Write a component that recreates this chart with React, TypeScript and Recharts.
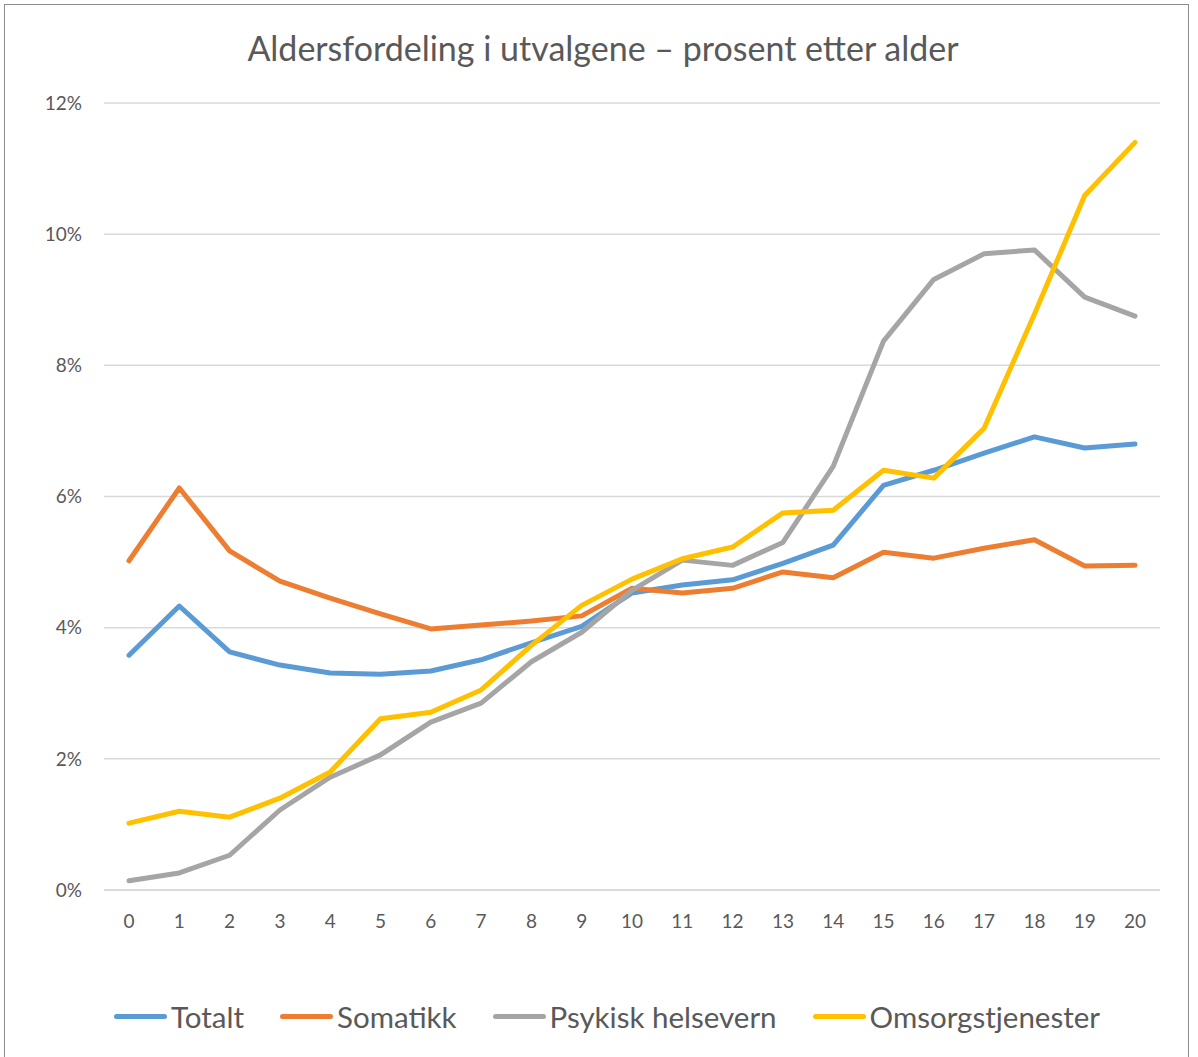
import React from 'react';
import { LineChart, Line, XAxis, YAxis, CartesianGrid } from 'recharts';

const ages = ['0','1','2','3','4','5','6','7','8','9','10','11','12','13','14','15','16','17','18','19','20'];
const totalt = [3.58,4.33,3.63,3.43,3.31,3.29,3.34,3.51,3.77,4.02,4.53,4.65,4.73,4.98,5.26,6.17,6.40,6.66,6.91,6.74,6.80];
const somatikk = [5.02,6.13,5.17,4.71,4.45,4.21,3.98,4.04,4.10,4.18,4.60,4.53,4.60,4.85,4.76,5.15,5.06,5.21,5.34,4.94,4.95];
const psykisk = [0.14,0.26,0.53,1.22,1.72,2.06,2.56,2.85,3.48,3.93,4.57,5.03,4.95,5.30,6.46,8.37,9.31,9.70,9.76,9.04,8.75];
const omsorg = [1.02,1.20,1.11,1.40,1.80,2.61,2.71,3.05,3.73,4.34,4.74,5.05,5.23,5.75,5.79,6.40,6.28,7.04,8.78,10.59,11.40];
const yTicks = [0,2,4,6,8,10,12];

const seriesDefs = [
  { key: 'totalt', name: 'Totalt', color: '#5B9BD5' },
  { key: 'somatikk', name: 'Somatikk', color: '#ED7D31' },
  { key: 'psykisk', name: 'Psykisk helsevern', color: '#A5A5A5' },
  { key: 'omsorg', name: 'Omsorgstjenester', color: '#FFC000' },
];

const data = ages.map((a, i) => ({
  age: a,
  totalt: totalt[i],
  somatikk: somatikk[i],
  psykisk: psykisk[i],
  omsorg: omsorg[i],
}));

const FONT = 'Lato, "Open Sans", sans-serif';

export default function App() {
  return (
    <div style={{ position: 'absolute', left: 0, top: 0, width: 1198, height: 1057, background: '#fff', overflow: 'hidden' }}>
      <div style={{ position: 'absolute', left: 4, top: 4, width: 1185, height: 1070, border: '1.5px solid #8C8C8C', boxSizing: 'border-box' }} />
      <div style={{ position: 'absolute', left: 0, top: 27, width: 1206, textAlign: 'center', fontFamily: FONT, fontSize: 34, color: '#595959' }}>
        Aldersfordeling i utvalgene – prosent etter alder
      </div>
      <div style={{ position: 'absolute', left: 0, top: 0 }}>
        <LineChart width={1198} height={1057} data={data} margin={{ top: 103, right: 38, bottom: 127, left: 44 }}>
          <CartesianGrid vertical={false} stroke="#D9D9D9" strokeWidth={1.5} />
          <XAxis
            dataKey="age"
            height={40}
            padding={{ left: 25, right: 25 }}
            axisLine={{ stroke: '#D9D9D9', strokeWidth: 1.5 }}
            tickLine={false}
            tick={{ fill: '#595959', fontSize: 19, fontFamily: FONT }}
            tickMargin={19}
            interval={0}
          />
          <YAxis
            width={60}
            domain={[0, 12]}
            ticks={yTicks}
            axisLine={false}
            tickLine={false}
            tick={{ fill: '#595959', fontSize: 19, fontFamily: FONT }}
            tickFormatter={(v) => `${v}%`}
            tickMargin={16}
          />
          {seriesDefs.map((s) => (
            <Line
              key={s.key}
              type="linear"
              dataKey={s.key}
              name={s.name}
              stroke={s.color}
              strokeWidth={5}
              strokeLinecap="round"
              strokeLinejoin="round"
              dot={false}
              activeDot={false}
              isAnimationActive={false}
            />
          ))}
        </LineChart>
      </div>
      <div style={{ position: 'absolute', left: 0, top: 999, width: 1214, display: 'flex', justifyContent: 'center', gap: 36, fontFamily: FONT, fontSize: 29.5, color: '#595959' }}>
        {seriesDefs.map((s) => (
          <div key={s.key} style={{ display: 'flex', alignItems: 'center' }}>
            <div style={{ width: 53, height: 5, borderRadius: 3, background: s.color, marginRight: 4 }} />
            <span>{s.name}</span>
          </div>
        ))}
      </div>
    </div>
  );
}
